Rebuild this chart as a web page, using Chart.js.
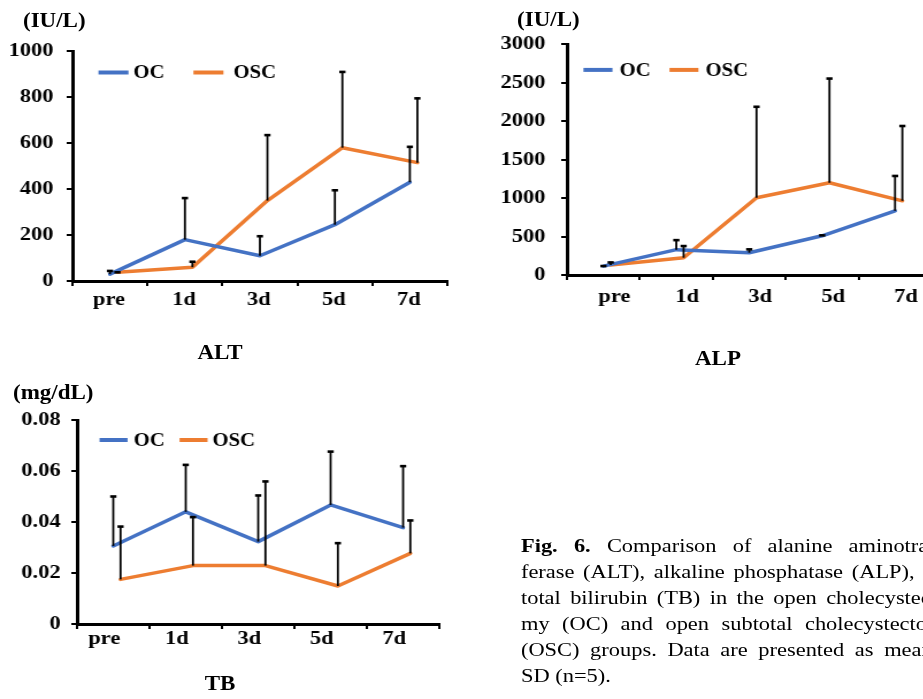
<!DOCTYPE html>
<html><head><meta charset="utf-8">
<script src="https://cdn.jsdelivr.net/npm/chart.js@4.4.1/dist/chart.umd.min.js"></script>
<style>
html,body{margin:0;padding:0;background:#fff;overflow:hidden;width:923px;height:699px;}
#page{position:absolute;left:0;top:0;width:840px;height:699px;transform:scaleX(1.15);transform-origin:0 0;font-family:"Liberation Serif","Times New Roman",serif;color:#000;}
canvas{position:absolute;}
.unit,.title{position:absolute;font-weight:bold;font-size:20px;line-height:20px;white-space:nowrap;}
.title{transform:translateX(-50%);}
#caption{position:absolute;left:453px;top:533px;font-size:19.5px;line-height:26px;}
#caption div{white-space:nowrap;text-align:justify;text-align-last:justify;width:378px;}
#caption div.last{text-align:left;text-align-last:left;}
</style></head><body>
<div id="page">
  <canvas id="cALT"></canvas>
  <canvas id="cALP"></canvas>
  <canvas id="cTB"></canvas>
  <div class="unit" style="left:20px;top:10px;">(IU/L)</div>
  <div class="unit" style="left:449.6px;top:9px;">(IU/L)</div>
  <div class="unit" style="left:11.3px;top:382px;">(mg/dL)</div>
  <div class="title" style="left:191.3px;top:342px;">ALT</div>
  <div class="title" style="left:624.3px;top:348px;">ALP</div>
  <div class="title" style="left:191.3px;top:673px;">TB</div>
  <div id="caption">
    <div><b>Fig. 6.</b> Comparison of alanine aminotrans-</div>
    <div>ferase (ALT), alkaline phosphatase (ALP), and</div>
    <div>total bilirubin (TB) in the open cholecystecto-</div>
    <div>my (OC) and open subtotal cholecystectomy</div>
    <div>(OSC) groups. Data are presented as mean ±</div>
    <div class="last">SD (n=5).</div>
  </div>
</div>
<script>
// ---------- data ----------
const categories = ['pre', '1d', '3d', '5d', '7d'];
const seriesNames = ['OC', 'OSC'];

const altOC     = [30, 180, 110, 245, 430];
const altOCsd   = [16, 183, 87, 152, 156];
const altOSC    = [38, 60, 350, 580, 515];
const altOSCsd  = [2, 26, 287, 332, 282];
const altTicks  = ['0', '200', '400', '600', '800', '1000'];

const alpOC     = [115, 330, 290, 510, 835];
const alpOCsd   = [8, 130, 50, 12, 460];
const alpOSC    = [130, 225, 1005, 1200, 965];
const alpOSCsd  = [40, 158, 1190, 1362, 980];
const alpTicks  = ['0', '500', '1000', '1500', '2000', '2500', '3000'];

const tbOC      = [0.0306, 0.0440, 0.0323, 0.0467, 0.0378];
const tbOCsd    = [0.0196, 0.0186, 0.0183, 0.0211, 0.0243];
const tbOSC     = [0.0175, 0.0229, 0.0229, 0.0149, 0.0277];
const tbOSCsd   = [0.0209, 0.0192, 0.0332, 0.0170, 0.0131];
const tbTicks   = ['0', '0.02', '0.04', '0.06', '0.08'];

// ---------- style ----------
const S = 1.15;               // horizontal stretch of the page
const BLUE = '#4472C4', ORANGE = '#ED7D31';
const FONT = '"Liberation Serif", "Times New Roman", serif';
const OSC_SHIFT = 0.1;        // OSC points sit slightly right of OC

const errorBars = {
  id: 'errorBars',
  afterDatasetsDraw(chart) {
    const ctx = chart.ctx, xs = chart.scales.xd, ys = chart.scales.y;
    chart.data.datasets.forEach(ds => {
      ds.sd.forEach((sd, i) => {
        const p = ds.data[i];
        const x = xs.getPixelForValue(p.x);
        const y0 = ys.getPixelForValue(p.y);
        const y1 = ys.getPixelForValue(p.y + sd);
        ctx.save();
        ctx.strokeStyle = '#000';
        ctx.lineWidth = 1.8;
        ctx.beginPath(); ctx.moveTo(x, y0); ctx.lineTo(x, y1); ctx.stroke();
        ctx.lineWidth = 2.6;
        ctx.beginPath(); ctx.moveTo(x - 2.7, y1 + 0.5); ctx.lineTo(x + 2.7, y1 + 0.5); ctx.stroke();
        ctx.restore();
      });
    });
  }
};

const innerLegend = {
  id: 'innerLegend',
  afterDraw(chart, args, o) {
    const ctx = chart.ctx, a = chart.chartArea;
    const y = a.top + o.dy;
    ctx.save();
    ctx.font = 'bold 18px ' + FONT;
    ctx.textBaseline = 'middle';
    ctx.fillStyle = '#000';
    chart.data.datasets.forEach((ds, k) => {
      const it = o.items[k];
      ctx.strokeStyle = ds.borderColor;
      ctx.lineWidth = 4;
      ctx.beginPath();
      ctx.moveTo(a.left + it[0] / S, y);
      ctx.lineTo(a.left + it[1] / S, y);
      ctx.stroke();
      ctx.fillText(ds.label, a.left + it[2] / S, y + 1);
    });
    ctx.restore();
  }
};

function makeChart(id, g) {
  const Wy = 60, P = 15, Hx = 45, R = 15;
  const cv = document.getElementById(id);
  const plotW = g.plotW / S;
  const W = Math.round(Wy + plotW + R);
  const H = Math.round(P + g.plotH + Hx);
  cv.width = W;
  cv.height = H;
  const mk = (vals, shift) => vals.map((v, i) => ({ x: i + shift, y: v }));
  const chart = new Chart(cv, {
    type: 'line',
    data: {
      datasets: [
        { label: seriesNames[0], data: mk(g.oc, 0), sd: g.ocsd, borderColor: BLUE, backgroundColor: BLUE,
          borderWidth: 3.5, pointRadius: 0, tension: 0, xAxisID: 'xd', yAxisID: 'y',
          borderJoinStyle: 'round', borderCapStyle: 'round' },
        { label: seriesNames[1], data: mk(g.osc, OSC_SHIFT), sd: g.oscsd, borderColor: ORANGE, backgroundColor: ORANGE,
          borderWidth: 3.5, pointRadius: 0, tension: 0, xAxisID: 'xd', yAxisID: 'y',
          borderJoinStyle: 'round', borderCapStyle: 'round' }
      ]
    },
    options: {
      responsive: false, maintainAspectRatio: false, animation: false, devicePixelRatio: 1,
      layout: { padding: { top: P, right: R, left: 0, bottom: 0 } },
      plugins: { legend: { display: false }, tooltip: { enabled: false },
                 innerLegend: { dy: g.legDy, items: g.leg } },
      scales: {
        x: {
          type: 'category', labels: categories, offset: true, position: 'bottom',
          grid: { display: true, offset: true, drawOnChartArea: false, drawTicks: true, tickLength: 5, color: '#000', lineWidth: 2 },
          border: { display: true, color: '#000', width: 3 },
          ticks: { color: '#000', font: { family: FONT, size: 19.5, weight: 'bold' }, padding: g.xPad,
                   labelOffset: g.labelOffset / S, maxRotation: 0, autoSkip: false },
          afterFit: s => { s.height = Hx; }
        },
        xd: { type: 'linear', display: false, min: -0.5, max: 4.5 },
        y: {
          type: 'linear', position: 'left', min: 0, max: g.yMax,
          ticks: { stepSize: g.step, color: '#000', font: { family: FONT, size: 19.5, weight: 'bold' },
                   padding: g.yPad, callback: (v, i) => g.ticks[i] },
          grid: { display: true, drawOnChartArea: false, drawTicks: true, tickLength: 5, color: '#000', lineWidth: 2 },
          border: { display: true, color: '#000', width: 3 },
          afterFit: s => { s.width = Wy; }
        }
      }
    },
    plugins: [errorBars, innerLegend]
  });
  // make the plot area exactly the wanted height, then place it
  let a = chart.chartArea;
  const extra = Math.round(g.plotH - (a.bottom - a.top));
  if (extra !== 0) {
    chart.resize(W, H + extra);
    a = chart.chartArea;
  }
  cv.style.left = (g.axisX / S - a.left) + 'px';
  cv.style.top = (g.top - a.top) + 'px';
  return chart;
}

makeChart('cALT', {
  axisX: 72, plotW: 375, top: 50.7, plotH: 230, yMax: 1000, step: 200, ticks: altTicks,
  oc: altOC, ocsd: altOCsd, osc: altOSC, oscsd: altOSCsd,
  xPad: 2, yPad: 11.5, labelOffset: -1,
  legDy: 21.3, leg: [[26, 56, 61], [121, 151, 161]]
});
makeChart('cALP', {
  axisX: 566.5, plotW: 364, top: 44.5, plotH: 231, yMax: 3000, step: 500, ticks: alpTicks,
  oc: alpOC, ocsd: alpOCsd, osc: alpOSC, oscsd: alpOSCsd,
  xPad: 5, yPad: 13.7, labelOffset: 11,
  legDy: 25.5, leg: [[16.5, 45.5, 52.5], [102.5, 131.5, 138.5]]
});
makeChart('cTB', {
  axisX: 76.5, plotW: 362, top: 420, plotH: 204, yMax: 0.08, step: 0.02, ticks: tbTicks,
  oc: tbOC, ocsd: tbOCsd, osc: tbOSC, oscsd: tbOSCsd,
  xPad: -2, yPad: 9.3, labelOffset: -9,
  legDy: 20, leg: [[22.5, 50.5, 56.5], [102.5, 130.5, 135.5]]
});
</script>
</body></html>
